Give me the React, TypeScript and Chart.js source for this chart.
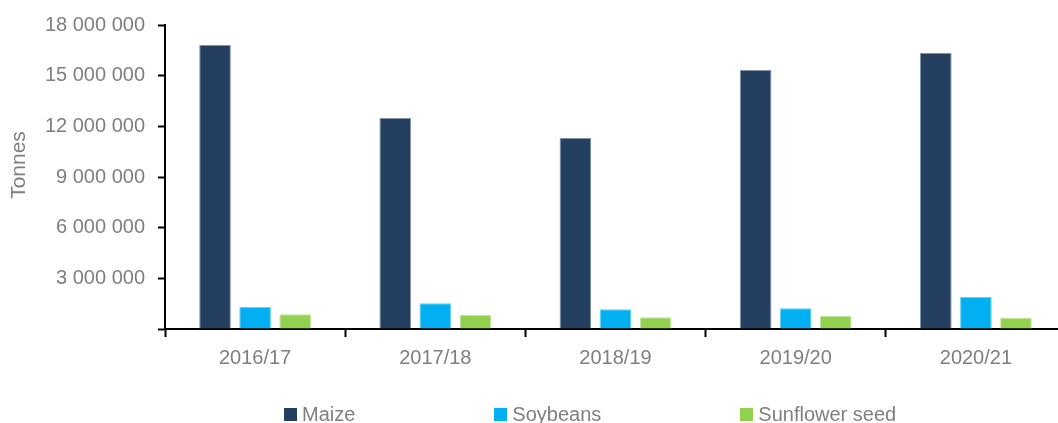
import React, { useEffect, useRef } from "react";
import { Chart, registerables } from "chart.js";

Chart.register(...registerables);

const categories = ["2016/17", "2017/18", "2018/19", "2019/20", "2020/21"];
const maize = [16820000, 12490000, 11310000, 15330000, 16340000];
const soybeans = [1300000, 1520000, 1170000, 1230000, 1890000];
const sunflower = [870000, 850000, 690000, 790000, 670000];
const yTicks = [0, 3000000, 6000000, 9000000, 12000000, 15000000, 18000000];

const seriesNames = ["Maize", "Soybeans", "Sunflower seed"];
const seriesColors = ["#243F60", "#00B0F0", "#92D050"];
const seriesBorders = ["#7F93AD", "#66CFF5", "#C2E69F"];
const yTitle = "Tonnes";

const FONT = '"Liberation Sans", Arial, sans-serif';
const GRAY = "#7F7F7F";

const fmt = (v: number) =>
  v === 0 ? "" : Math.round(v).toString().replace(/\B(?=(\d{3})+(?!\d))/g, " ");

const titlePlugin = {
  id: "yTitle",
  afterDraw(chart: any) {
    const ctx = chart.ctx;
    const area = chart.chartArea;
    ctx.save();
    ctx.translate(19, (area.top + area.bottom) / 2 - 12);
    ctx.rotate(-Math.PI / 2);
    ctx.font = `21px ${FONT}`;
    ctx.fillStyle = GRAY;
    ctx.textAlign = "center";
    ctx.textBaseline = "middle";
    ctx.fillText(yTitle, 0, 0);
    ctx.restore();
  },
};

export default function App() {
  const ref = useRef<HTMLCanvasElement | null>(null);
  useEffect(() => {
    if (!ref.current) return;
    const data = [maize, soybeans, sunflower];
    const chart = new Chart(ref.current, {
      type: "bar",
      data: {
        labels: categories,
        datasets: seriesNames.map((n, i) => ({
          label: n,
          data: data[i],
          backgroundColor: seriesColors[i],
          borderColor: seriesBorders[i],
          borderWidth: 1,
          categoryPercentage: 0.667,
          barPercentage: 0.79,
        })),
      },
      plugins: [titlePlugin],
      options: {
        animation: false,
        responsive: false,
        maintainAspectRatio: false,
        layout: { padding: { top: 25, right: 4, bottom: 44, left: 0 } },
        plugins: { legend: { display: false }, tooltip: { enabled: false } },
        scales: {
          x: {
            grid: {
              drawOnChartArea: false,
              drawTicks: true,
              tickLength: 8,
              tickWidth: 2,
              tickColor: "#000",
              offset: true,
            },
            border: { color: "#000", width: 2 },
            ticks: { color: GRAY, font: { family: FONT, size: 20 }, padding: 9 },
            afterFit: (s: any) => {
              s.height = 50;
            },
          },
          y: {
            min: 0,
            max: 18000000,
            afterBuildTicks: (s: any) => {
              s.ticks = yTicks.map((v) => ({ value: v }));
            },
            grid: {
              drawOnChartArea: false,
              tickLength: 7,
              tickWidth: 2,
              tickColor: "#000",
            },
            border: { color: "#000", width: 2 },
            ticks: {
              color: GRAY,
              font: { family: FONT, size: 20 },
              padding: 13,
              callback: (v: any) => fmt(Number(v)),
            },
            afterFit: (s: any) => {
              s.width = 165;
            },
          },
        },
      },
    });
    return () => chart.destroy();
  }, []);

  return (
    <div style={{ position: "relative", width: 1058, height: 423, overflow: "hidden", background: "#fff" }}>
      <style>{`body{margin:0}`}</style>
      <canvas ref={ref} width={1070} height={423} style={{ position: "absolute", left: 0, top: 0 }} />
      <div
        style={{
          position: "absolute",
          left: 284,
          top: 400,
          display: "flex",
          gap: 139,
          fontFamily: FONT,
          fontSize: 20,
          color: GRAY,
          lineHeight: "28px",
        }}
      >
        {seriesNames.map((n, i) => (
          <div key={n} style={{ display: "flex", alignItems: "center" }}>
            <span style={{ width: 13, height: 13, background: seriesColors[i], display: "inline-block", marginRight: 5 }} />
            <span>{n}</span>
          </div>
        ))}
      </div>
    </div>
  );
}
